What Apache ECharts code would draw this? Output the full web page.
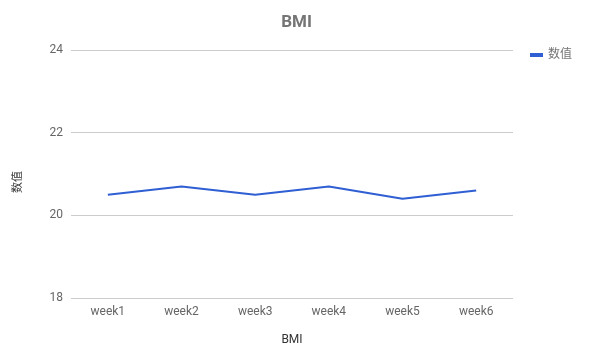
<!DOCTYPE html>
<html><head><meta charset="utf-8">
<script src="https://cdn.jsdelivr.net/npm/echarts@6/dist/echarts.min.js"></script>
<style>html,body{margin:0;padding:0;background:#fff}#c{width:593px;height:359px}</style>
</head><body><div id="c"></div>
<script>
const categories = ['week1','week2','week3','week4','week5','week6'];
const values = [20.5, 20.7, 20.5, 20.7, 20.4, 20.6];
const seriesName = '数值';
const yTicks = {min: 18, max: 24, interval: 2};

const chart = echarts.init(document.getElementById('c'));
chart.setOption({
  animation: false,
  textStyle: {fontFamily: 'Roboto, "Noto Sans CJK SC", sans-serif'},
  title: {text: 'BMI', left: 'center', top: 9,
    textStyle: {fontSize: 17, fontWeight: 'bold', color: '#757575', fontFamily: 'Roboto, sans-serif'}},
  legend: {data: [seriesName], right: 16, top: 44, itemWidth: 13, itemHeight: 4, itemGap: 7,
    icon: 'rect', textStyle: {color: '#757575', fontSize: 12}},
  grid: {left: 71, right: 80, top: 50, bottom: 61},
  xAxis: {type: 'category', data: categories, name: 'BMI', nameLocation: 'middle', nameGap: 36,
    nameTextStyle: {color: '#333', fontSize: 12},
    axisLine: {show: false}, axisTick: {show: false},
    axisLabel: {color: '#666', fontSize: 12, margin: 8}},
  yAxis: {type: 'value', min: yTicks.min, max: yTicks.max, interval: yTicks.interval,
    name: seriesName, nameLocation: 'middle', nameGap: 47, nameRotate: 90,
    nameTextStyle: {color: '#333', fontSize: 11, padding: [0, 16, 0, 0]},
    axisLine: {show: false}, axisTick: {show: false},
    axisLabel: {color: '#666', fontSize: 12, margin: 8},
    splitLine: {lineStyle: {color: '#cccccc'}}},
  series: [{name: seriesName, type: 'line', data: values, showSymbol: false, symbol: 'none',
    lineStyle: {color: '#2f5fd3', width: 2}, itemStyle: {color: '#2f5fd3'}}]
});
</script></body></html>
